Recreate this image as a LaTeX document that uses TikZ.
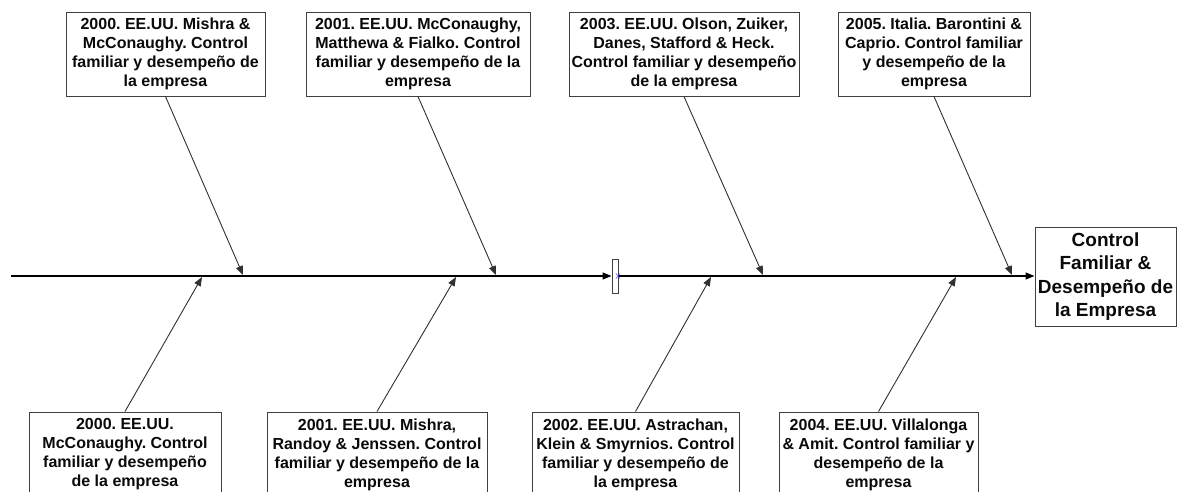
\documentclass[tikz,border=0pt]{standalone}
\usepackage{fontspec}
\setmainfont{Liberation Sans}
\usetikzlibrary{arrows.meta}
\frenchspacing
\definecolor{boxline}{HTML}{404040}
\definecolor{branch}{HTML}{303030}
\definecolor{txt}{HTML}{0A0A0A}
\tikzset{
  refbox/.style={draw=boxline, line width=1pt, fill=white, align=center, inner sep=0pt,
    text=txt, font=\fontsize{16}{19}\selectfont\bfseries},
  headbox/.style={draw=boxline, line width=1pt, fill=white, align=center, inner sep=0pt,
    text=txt, font=\fontsize{19}{23.5}\selectfont\bfseries},
  bone/.style={draw=branch, line width=0.9pt, -{Triangle[length=9pt,width=7pt]}},
  spine/.style={draw=black, line width=1.2pt, -{Triangle[length=9pt,width=7pt]}}
}
\begin{document}
\begin{tikzpicture}[x=1pt,y=-1pt]
\useasboundingbox (0,0) rectangle (1177,491);
\clip (0,0) rectangle (1177,491);
% top boxes
\node[refbox, minimum width=199pt, minimum height=84pt] (t1) at (165.5,54)
  {2000. EE.UU. Mishra \&\\McConaughy. Control\\familiar y desempeño de\\la empresa};
\node[refbox, minimum width=224pt, minimum height=84pt] (t2) at (418,54)
  {2001. EE.UU. McConaughy,\\Matthewa \& Fialko. Control\\familiar y desempeño de la\\empresa};
\node[refbox, minimum width=230pt, minimum height=84pt] (t3) at (684,54)
  {2003. EE.UU. Olson, Zuiker,\\Danes, Stafford \& Heck.\\Control familiar y desempeño\\de la empresa};
\node[refbox, minimum width=192pt, minimum height=84pt] (t4) at (934,54)
  {2005. Italia. Barontini \&\\Caprio. Control familiar\\y desempeño de la\\empresa};
% bottom boxes
\node[refbox, minimum width=192pt, minimum height=85pt] (b1) at (125,454.5)
  {2000. EE.UU.\\McConaughy. Control\\familiar y desempeño\\de la empresa};
\node[refbox, minimum width=220pt, minimum height=85pt] (b2) at (377,454.5)
  {2001. EE.UU. Mishra,\\Randoy \& Jenssen. Control\\familiar y desempeño de la\\empresa};
\node[refbox, minimum width=207pt, minimum height=85pt] (b3) at (635.5,454.5)
  {2002. EE.UU. Astrachan,\\Klein \& Smyrnios. Control\\familiar y desempeño de\\la empresa};
\node[refbox, minimum width=199pt, minimum height=85pt] (b4) at (878.5,454.5)
  {2004. EE.UU. Villalonga\\\& Amit. Control familiar y\\desempeño de la\\empresa};
% head
\node[headbox, minimum width=141pt, minimum height=99pt] (head) at (1105.5,276.5)
  {Control\\Familiar \&\\Desempeño de\\la Empresa};
% junction marker
\node[draw=boxline, line width=0.9pt, fill=white, minimum width=6pt, minimum height=34pt, inner sep=0pt] (mid) at (615,276) {};
% spine
\coordinate (start) at (11,276);
\draw[spine] (start) -- (mid.west |- start);
\draw[spine] (mid.east |- start) -- (head.west |- start);
\draw[blue!70, line width=0.5pt] (616,273.5) -- (620,278.5) (616,278.5) -- (620,273.5);
% tips on spine
\coordinate (e1) at (243,275);
\coordinate (e2) at (496,275);
\coordinate (e3) at (763,275);
\coordinate (e4) at (1012,275);
\coordinate (f1) at (202,277);
\coordinate (f2) at (456,277);
\coordinate (f3) at (711,277);
\coordinate (f4) at (956,277);
\draw[bone] (t1.south) -- (e1);
\draw[bone] (t2.south) -- (e2);
\draw[bone] (t3.south) -- (e3);
\draw[bone] (t4.south) -- (e4);
\draw[bone] (b1.north) -- (f1);
\draw[bone] (b2.north) -- (f2);
\draw[bone] (b3.north) -- (f3);
\draw[bone] (b4.north) -- (f4);
\end{tikzpicture}
\end{document}
